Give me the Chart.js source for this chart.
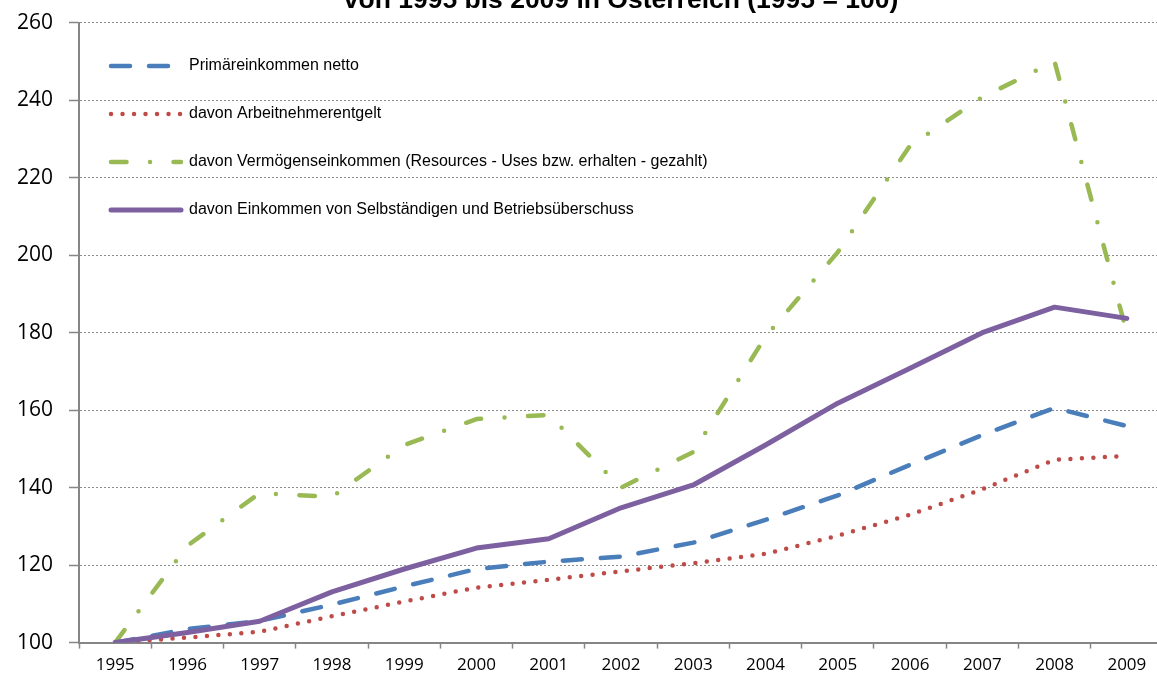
<!DOCTYPE html>
<html>
<head>
<meta charset="utf-8">
<script src="https://cdn.jsdelivr.net/npm/chart.js@4.4.1/dist/chart.umd.min.js"></script>
<style>
    html, body { margin: 0; padding: 0; background: #fff; overflow: hidden; }
    #wrap { position: absolute; left: 0; top: -15px; width: 1234px; height: 700px; }
</style>
</head>
<body>
<div id="wrap">
    <canvas id="myLineChart" width="1234" height="700"></canvas>
</div>
<script>
// Index 1995 = 100
let years = ['1995', '1996', '1997', '1998', '1999', '2000', '2001', '2002', '2003', '2004', '2005', '2006', '2007', '2008', '2009'];
let primaerNetto = [100, 103.5, 105.6, 109.8, 114.5, 119, 120.9, 122.2, 125.8, 131.7, 138, 145.9, 153.6, 160.6, 155.9];
let arbeitnehmer = [100, 101.3, 102.8, 106.8, 110.6, 114.2, 116.2, 118.4, 120.5, 122.9, 127.6, 133, 139.6, 147.2, 148.2];
let vermoegen = [100, 125, 138.6, 137.6, 151, 157.7, 158.8, 140, 149.2, 179, 200.8, 228.3, 240.8, 250, 179.9];
let selbstaendige = [100, 102.6, 105.5, 113.1, 119, 124.4, 126.8, 134.8, 140.7, 151, 161.8, 170.8, 180, 186.6, 183.7];
let yTicks = [100, 120, 140, 160, 180, 200, 220, 240, 260];

let axisGrey = '#868686';

let ctx = document.getElementById("myLineChart");

new Chart(ctx, {
    type: 'line',
    data: {
        labels: years,
        datasets: [{
            label: 'Primäreinkommen netto',
            data: primaerNetto,
            borderColor: '#4a7ebb',
            backgroundColor: '#4a7ebb',
            borderWidth: 4.5,
            borderDash: [19, 19],
            borderCapStyle: 'round',
            order: 1,
        }, {
            label: 'davon Arbeitnehmerentgelt',
            data: arbeitnehmer,
            borderColor: '#be4b48',
            backgroundColor: '#be4b48',
            borderWidth: 4.5,
            borderDash: [0, 11.5],
            borderCapStyle: 'round',
            order: 1,
        }, {
            label: 'davon Vermögenseinkommen (Resources - Uses bzw. erhalten - gezahlt)',
            data: vermoegen,
            borderColor: '#98b954',
            backgroundColor: '#98b954',
            borderWidth: 4.5,
            borderDash: [15.5, 23.5, 0, 23.5],
            borderCapStyle: 'round',
            order: 1,
        }, {
            label: 'davon Einkommen von Selbständigen und Betriebsüberschuss',
            data: selbstaendige,
            borderColor: '#7d60a0',
            backgroundColor: '#7d60a0',
            borderWidth: 5,
            borderCapStyle: 'round',
            order: 0,
        }],
    },
    options: {
        responsive: false,
        animation: false,
        events: [],
        elements: {
            point: { radius: 0 },
            line: { tension: 0, borderJoinStyle: 'round' },
        },
        layout: {
            padding: { left: 1, right: 71, top: 0, bottom: 4 },
        },
        plugins: {
            title: {
                display: true,
                fullSize: false,
                text: 'von 1995 bis 2009 in Österreich (1995 = 100)',
                color: '#000',
                font: { family: 'Liberation Sans', size: 26.5, weight: 'bold' },
                padding: { top: 0, bottom: 6 },
            },
            legend: {
                position: 'chartArea',
                align: 'start',
                // empty legend title only pushes the entries down inside the plot
                title: {
                    display: true,
                    text: '',
                    font: { size: 10, lineHeight: 1 },
                    padding: { top: 0, bottom: 31 },
                },
                labels: {
                    usePointStyle: true,
                    pointStyle: 'line',
                    pointStyleWidth: 70,
                    padding: 32,
                    color: '#000',
                    font: { family: 'Liberation Sans', size: 16 },
                    sort: (a, b) => a.datasetIndex - b.datasetIndex,
                    generateLabels: (chart) => {
                        let items = Chart.defaults.plugins.legend.labels.generateLabels(chart);
                        items.forEach(item => {
                            let ds = chart.data.datasets[item.datasetIndex];
                            item.lineDash = ds.borderDash || [];
                            item.lineCap = 'round';
                            item.lineWidth = ds.borderWidth;
                        });
                        return items;
                    },
                },
            },
            tooltip: { enabled: false },
        },
        scales: {
            x: {
                offset: true,
                grid: {
                    offset: true,
                    drawOnChartArea: false,
                    drawTicks: true,
                    tickLength: 6,
                    tickColor: axisGrey,
                    tickWidth: 1.5,
                },
                border: { display: true, color: axisGrey, width: 2 },
                ticks: {
                    color: '#000',
                    padding: 6,
                    maxRotation: 0,
                    autoSkip: false,
                    font: { family: 'Open Sans', size: 17 },
                },
            },
            y: {
                min: yTicks[0],
                max: yTicks[yTicks.length - 1],
                afterBuildTicks: (axis) => { axis.ticks = yTicks.map(v => ({ value: v })); },
                grid: {
                    color: '#8c8c8c',
                    lineWidth: 1,
                    borderDash: [2, 2],
                    tickLength: 10,
                    tickColor: axisGrey,
                    tickWidth: 1.5,
                    tickBorderDash: [],
                },
                border: { display: true, color: axisGrey, width: 2, dash: [2, 2] },
                ticks: {
                    color: '#000',
                    padding: 16,
                    font: { family: 'Open Sans', size: 21 },
                },
            },
        },
    },
});
</script>
</body>
</html>
